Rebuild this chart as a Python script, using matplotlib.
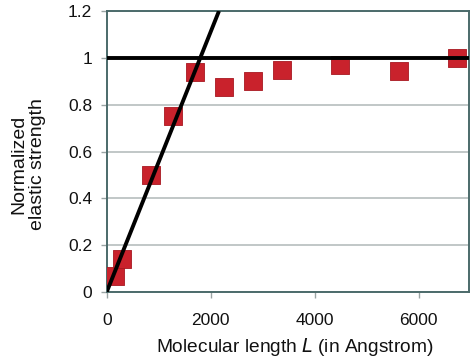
import matplotlib
matplotlib.use("Agg")
import matplotlib.pyplot as plt
import numpy as np

plt.rcParams['font.family'] = ['Liberation Sans', 'DejaVu Sans']

# Molecular length (Angstrom) and normalized elastic strength
lengths = [160, 300, 850, 1280, 1700, 2260, 2820, 3380, 4490, 5620, 6740]
strength = [0.07, 0.14, 0.50, 0.75, 0.94, 0.875, 0.90, 0.95, 0.97, 0.945, 1.0]

# Guide lines: linear rise through the origin and the plateau
crossover_length = 1800
plateau_value = 1.0

x_ticks = [0, 2000, 4000, 6000]
y_ticks = [0, 0.2, 0.4, 0.6, 0.8, 1.0, 1.2]
y_tick_labels = ['0', '0.2', '0.4', '0.6', '0.8', '1', '1.2']

fig = plt.figure(figsize=(4.70, 3.61), dpi=100)
ax = fig.add_axes([0.227, 0.191, 0.771, 0.7785])

xmax = 6970
ax.set_xlim(0, xmax)
ax.set_ylim(0, 1.2)

ax.set_yticks(y_ticks)
ax.set_yticklabels(y_tick_labels)
ax.set_xticks(x_ticks)

ax.grid(axis='y', color='#bcc3c3', linewidth=1.3, zorder=0)
ax.set_axisbelow(True)

ax.scatter(lengths, strength, marker='s', s=170, color='#c9222c',
           edgecolors='#a81820', linewidths=0.6, zorder=3)

# Linear rise line from the origin to the top of the plot
x_rise = np.array([0, 1.2 * crossover_length / plateau_value])
ax.plot(x_rise, x_rise * plateau_value / crossover_length, color='black',
        linewidth=2.8, zorder=4, solid_capstyle='butt')
ax.plot([0, xmax], [plateau_value, plateau_value], color='black',
        linewidth=2.8, zorder=4, solid_capstyle='butt')

spine_color = '#4b6a6a'
for s in ax.spines.values():
    s.set_color(spine_color)
    s.set_linewidth(1.4)

ax.tick_params(axis='both', colors='#9aa4a4', length=4, width=1,
               labelcolor='#111111', labelsize=12.5)
ax.tick_params(axis='y', pad=6.5)
ax.tick_params(axis='x', pad=11)

ax.set_xlabel('Molecular length $\\mathit{L}$ (in Angstrom)', fontsize=13.8,
              color='#111111')
ax.xaxis.set_label_coords(0.52, -0.196)
ax.xaxis.label.set_va('center')

ax.set_ylabel('Normalized\nelastic strength', fontsize=14,
              color='#111111', linespacing=1.1)
ax.yaxis.set_label_coords(-0.217, 0.455)
ax.yaxis.label.set_va('center')
ax.yaxis.label.set_ha('center')

fig.savefig('out.png', dpi=100)
